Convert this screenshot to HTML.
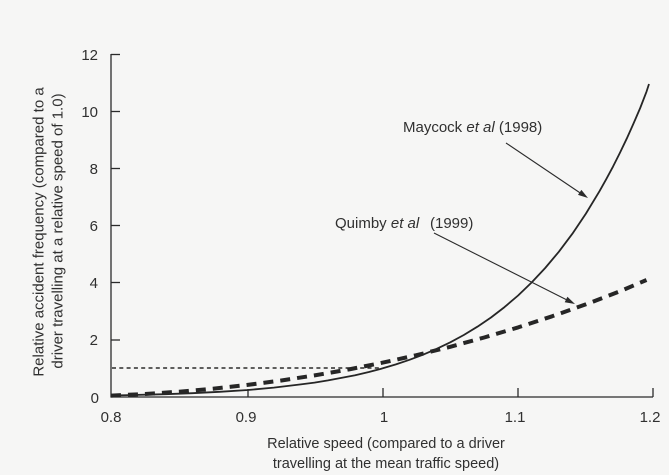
<!DOCTYPE html>
<html>
<head>
<meta charset="utf-8">
<style>
  html, body { margin:0; padding:0; background:#f6f6f5; }
  svg { display:block; }
  text { font-family: "Liberation Sans", Arial, sans-serif; fill:#303030; }
</style>
</head>
<body>
<svg width="669" height="475" viewBox="0 0 669 475" xmlns="http://www.w3.org/2000/svg">
  <rect x="0" y="0" width="669" height="475" fill="#f6f6f5"/>

  <!-- axes -->
  <g stroke="#2b2b2b" stroke-width="1.3" fill="none">
    <line x1="111" y1="54" x2="111" y2="397.5"/>
    <line x1="110.5" y1="397" x2="653" y2="397"/>
    <!-- y ticks -->
    <line x1="111" y1="54.5" x2="120" y2="54.5"/>
    <line x1="111" y1="111.5" x2="120" y2="111.5"/>
    <line x1="111" y1="168.5" x2="120" y2="168.5"/>
    <line x1="111" y1="225.5" x2="120" y2="225.5"/>
    <line x1="111" y1="282.5" x2="120" y2="282.5"/>
    <line x1="111" y1="340" x2="120" y2="340"/>
    <!-- x ticks -->
    <line x1="248" y1="397" x2="248" y2="389"/>
    <line x1="383" y1="397" x2="383" y2="388"/>
    <line x1="518" y1="397" x2="518" y2="388"/>
    <line x1="653" y1="397" x2="653" y2="388"/>
  </g>

  <!-- y tick labels -->
  <g font-size="15" text-anchor="end">
    <text x="98" y="60">12</text>
    <text x="98" y="117">10</text>
    <text x="98" y="174">8</text>
    <text x="98" y="231">6</text>
    <text x="98" y="288">4</text>
    <text x="98" y="345">2</text>
    <text x="99" y="403">0</text>
  </g>

  <!-- x tick labels -->
  <g font-size="15" text-anchor="middle">
    <text x="111" y="422">0.8</text>
    <text x="246" y="422">0.9</text>
    <text x="384" y="422">1</text>
    <text x="515" y="422">1.1</text>
    <text x="650" y="422">1.2</text>
  </g>

  <!-- axis titles -->
  <g font-size="14.5" text-anchor="middle">
    <text x="386" y="448">Relative speed (compared to a driver</text>
    <text x="386" y="468">travelling at the mean traffic speed)</text>
  </g>
  <g font-size="15" text-anchor="middle">
    <text transform="translate(38,232) rotate(-90)" dy="0.35em">Relative accident frequency (compared to a</text>
    <text transform="translate(57,231) rotate(-90)" dy="0.35em">driver travelling at a relative speed of 1.0)</text>
  </g>

  <!-- dotted reference line at 1.0 -->
  <line x1="112" y1="368" x2="380" y2="368" stroke="#2b2b2b" stroke-width="1.6" stroke-dasharray="4 3.3"/>

  <!-- Quimby dashed curve -->
  <polyline fill="none" stroke="#262626" stroke-width="4" stroke-dasharray="10 7" stroke-linejoin="round"
    points="111,395.6 144.9,394.0 178.9,391.7 212.8,388.7 246.7,385.0 280.6,380.6 314.6,375.4 348.5,369.5 382.4,362.7 416.3,355.2 450.3,346.8 484.2,337.5 518.1,327.4 552.1,316.3 586.0,304.3 620.0,291.3 646.5,280.0"/>

  <!-- Maycock solid curve -->
  <polyline fill="none" stroke="#262626" stroke-width="1.8" stroke-linejoin="round"
    points="111,395.5 165.3,394.2 192.4,393.2 219.6,391.8 248,390.0 273.8,387.6 300.8,384.4 314.5,382.6 328.1,380.4 355.2,375.2 368.9,372.0 382.4,368.4 395.9,364.4 409.5,359.8 423.1,354.7 436.7,348.8 450.3,342.3 463.8,335.0 477.4,326.7 491.0,317.5 504.5,307.1 518.1,295.5 531.6,282.5 545.2,268.0 558.8,251.8 572.4,233.7 585.9,213.6 599.5,191.2 606.3,179.1 613.1,166.4 619.9,152.9 626.7,138.7 633.4,123.8 640.2,108.0 646.6,91.4 649,84"/>

  <!-- annotations -->
  <text x="403" y="132" font-size="15">Maycock <tspan font-style="italic">et al</tspan> (1998)</text>
  <text x="335" y="228" font-size="15">Quimby <tspan font-style="italic">et al</tspan><tspan x="430">(1999)</tspan></text>

  <g stroke="#2b2b2b" stroke-width="1.1">
    <line x1="506" y1="143" x2="581" y2="193.5"/>
    <line x1="434" y1="233" x2="567" y2="300"/>
  </g>
  <g fill="#2b2b2b">
    <polygon points="588,198 578.0,194.9 581.4,189.9"/>
    <polygon points="575,304 564.7,302.2 567.4,296.8"/>
  </g>
</svg>
</body>
</html>
